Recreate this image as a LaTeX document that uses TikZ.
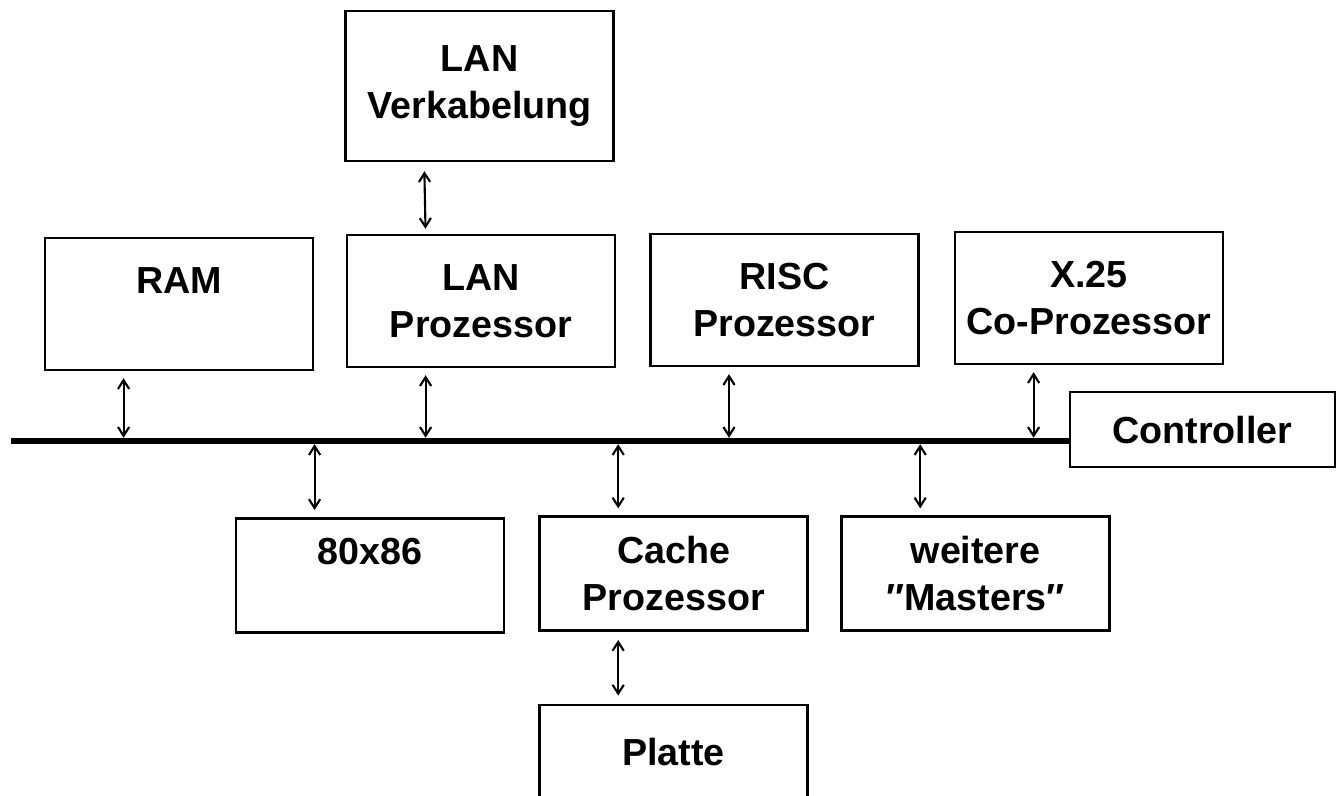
\documentclass[tikz,border=0pt]{standalone}
\usepackage{fontspec}
\setmainfont{Liberation Sans}
\usepackage{tikz}
\usetikzlibrary{arrows.meta, positioning, calc}
\tikzset{
  unit/.style={rectangle, draw=black, fill=white, minimum width=6.7cm,
    minimum height=3.3cm, align=center, line width=2pt,
    font=\fontsize{26.8}{33.5}\selectfont\bfseries},
  lowunit/.style={unit, minimum height=2.85cm},
  link/.style={{Straight Barb[length=2.2mm,width=2.8mm]}-{Straight Barb[length=2.2mm,width=2.8mm]},
    line width=1.5pt, shorten <=0.17cm, shorten >=0.08cm},
  busline/.style={line width=4.3pt}
}

\begin{document}
\begin{tikzpicture}
  \useasboundingbox (0,0) rectangle (33.4,19.9);

  % Cabling on top
  \node[unit, minimum height=3.75cm] (cable) at (11.99, 17.75) {LAN\\Verkabelung};

  % Units above the bus
  \node[unit] (ram) at (4.475, 12.3) {RAM\\\mbox{}};
  \node[unit] (lanp) at (12.025, 12.375) {LAN\\Prozessor};
  \node[unit] (risc) at (19.61, 12.4) {RISC\\Prozessor};
  \node[unit] (x25) at (27.225, 12.45) {X.25\\Co-Prozessor};

  % Bus and controller
  \node[unit, minimum width=6.625cm, minimum height=1.875cm] (ctrl) at (30.06, 9.16) {Controller};
  \coordinate (busstart) at (0.275, 8.875);
  \draw[busline] (busstart) -- (busstart -| ctrl.west);

  % Units below the bus
  \node[lowunit] (cpu) at (9.25, 5.52) {80x86\\\mbox{}};
  \node[lowunit] (cache) at (16.84, 5.56) {Cache\\Prozessor};
  \node[lowunit] (more) at (24.39, 5.56) {weitere\\″Masters″};
  \node[unit, minimum height=2.35cm] (disk) at (16.84, 1.1) {Platte};

  % Cabling to LAN processor
  \draw[link, shorten <=0.22cm, shorten >=0.12cm] ([xshift=2cm]cable.south west) -- ([xshift=2cm]lanp.north west);

  % Upper units to bus
  \draw[link] ([xshift=2cm]ram.south west) -- ([xshift=2cm]ram.south west |- busstart);
  \draw[link] ([xshift=2cm]lanp.south west) -- ([xshift=2cm]lanp.south west |- busstart);
  \draw[link] ([xshift=2cm]risc.south west) -- ([xshift=2cm]risc.south west |- busstart);
  \draw[link] ([xshift=2cm]x25.south west) -- ([xshift=2cm]x25.south west |- busstart);

  % Lower units to bus
  \draw[link] ([xshift=2cm]cpu.north west) -- ([xshift=2cm]cpu.north west |- busstart);
  \draw[link] ([xshift=2cm]cache.north west) -- ([xshift=2cm]cache.north west |- busstart);
  \draw[link] ([xshift=2cm]more.north west) -- ([xshift=2cm]more.north west |- busstart);

  % Cache to disk
  \draw[link, shorten <=0.2cm, shorten >=0.2cm] ([xshift=2cm]cache.south west) -- ([xshift=2cm]disk.north west);
\end{tikzpicture}
\end{document}
